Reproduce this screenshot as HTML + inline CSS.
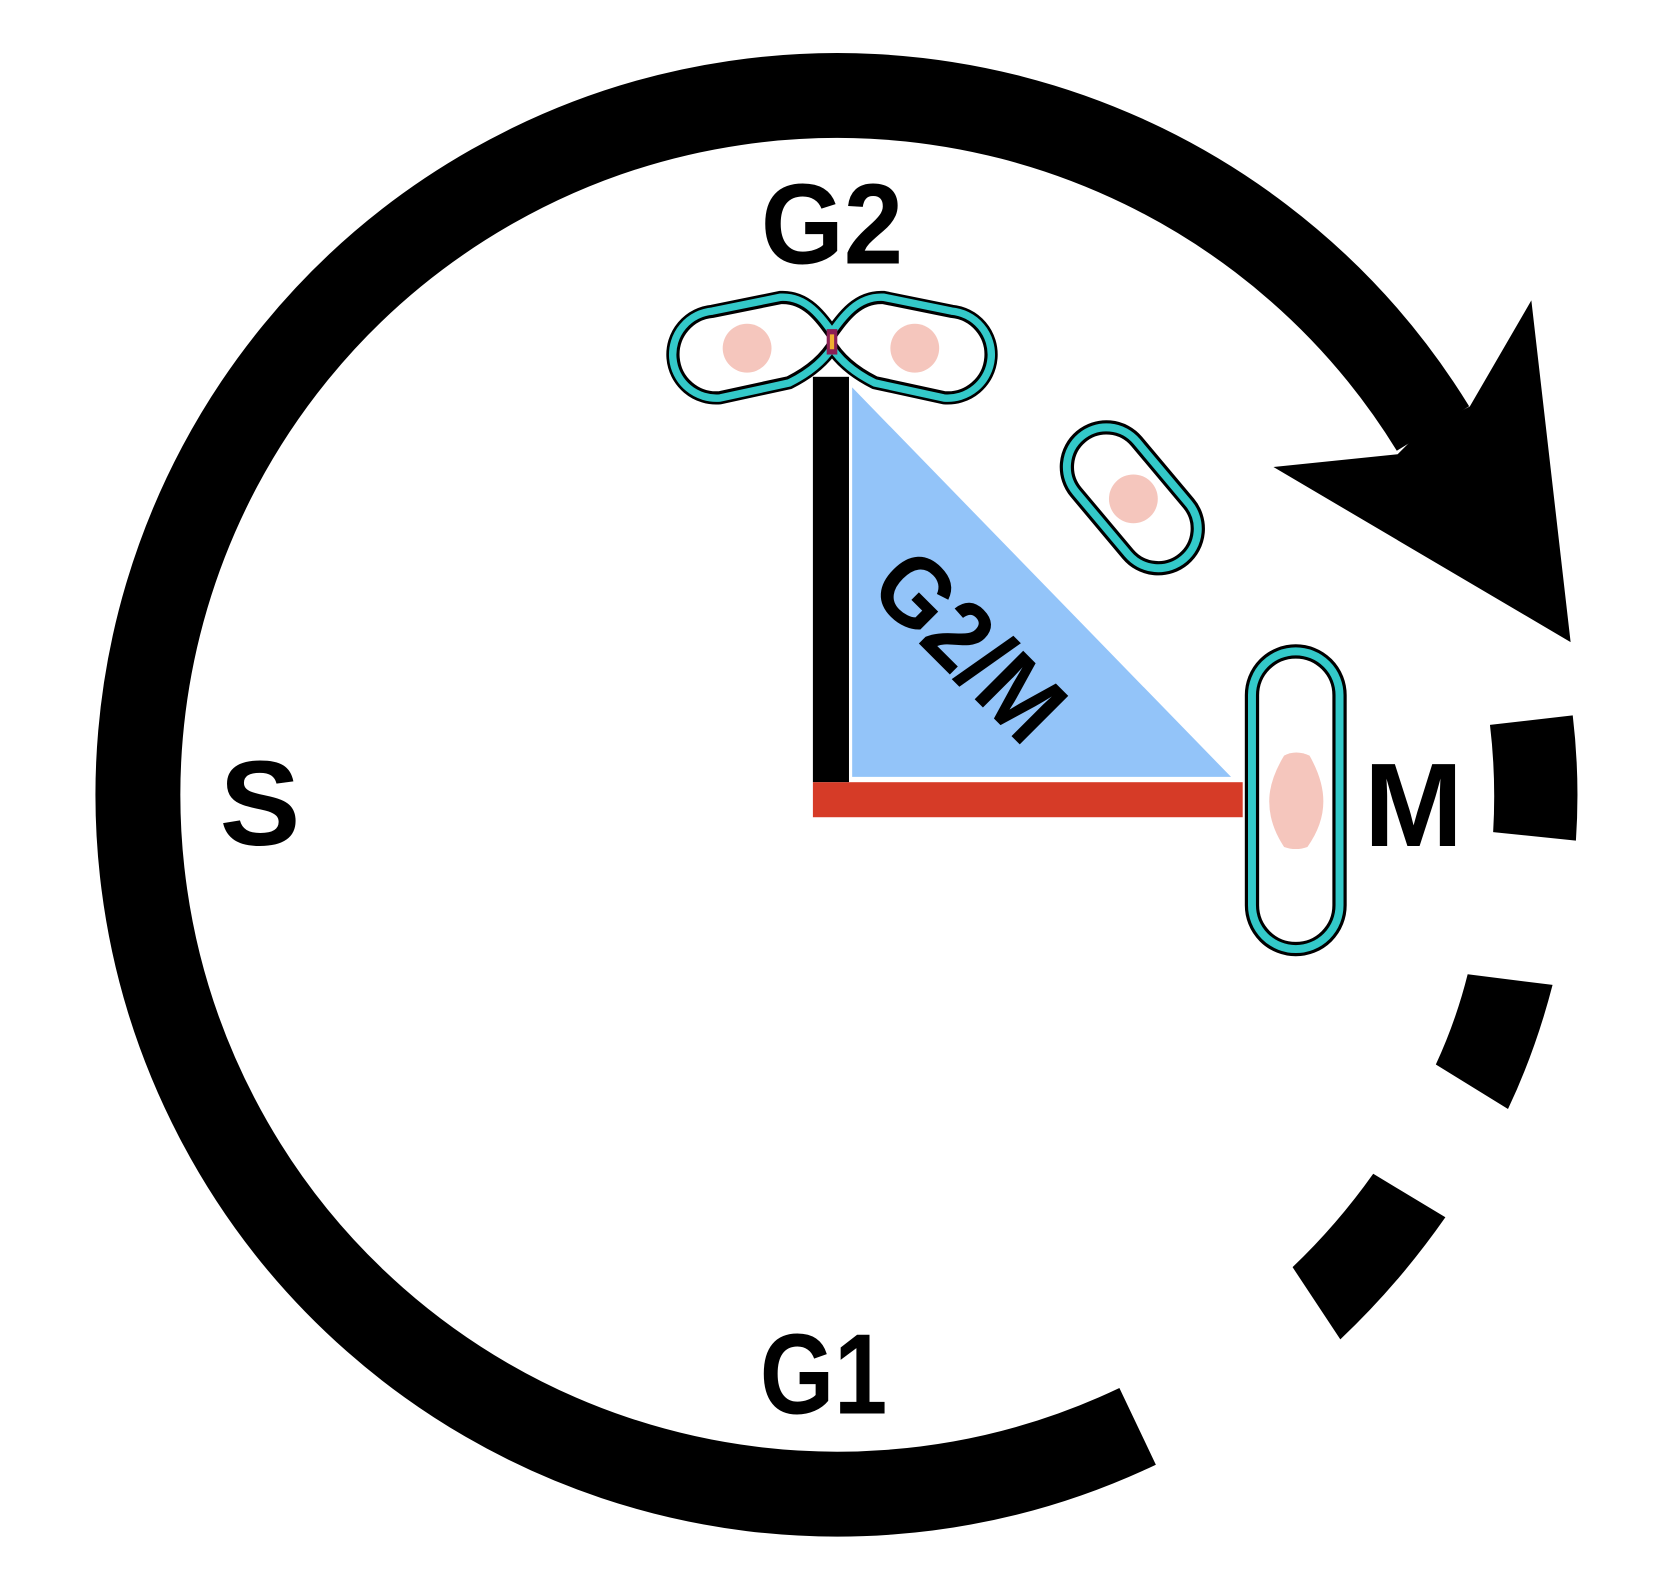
<!DOCTYPE html>
<html><head><meta charset="utf-8"><style>html,body{margin:0;padding:0;background:#fff}svg{display:block}</style></head>
<body>
<svg width="1664" height="1592" viewBox="0 0 1568 1500" xmlns="http://www.w3.org/2000/svg">
<g fill="none" stroke="#000" stroke-width="80">
<path d="M1072.0 1344 A659 659 0 1 1 1350.3 403.7"/>
</g>
<path d="M1404 683 L1482 674 Q1489 733 1485 792 L1407 784 Q1410 733 1404 683 Z" fill="#000"/>
<path d="M1383 918 L1463 928 Q1447 990 1421 1045 L1353 1003 Q1372 962 1383 918 Z" fill="#000"/>
<path d="M1294 1106 L1362 1147 Q1318 1210 1263 1262 L1218 1194 Q1260 1154 1294 1106 Z" fill="#000"/>
<polygon points="1200,440 1317,428 1340,405 1385,383 1443,283 1480,605" fill="#000"/>
<g font-family="Liberation Sans, sans-serif" font-weight="bold" fill="#000">
<text x="784" y="248" font-size="108" text-anchor="middle" textLength="134" lengthAdjust="spacingAndGlyphs">G2</text>
<text x="245" y="796" font-size="114" text-anchor="middle">S</text>
<text x="776" y="1332" font-size="108" text-anchor="middle" textLength="120" lengthAdjust="spacingAndGlyphs">G1</text>
<text x="1332" y="797" font-size="112" text-anchor="middle">M</text>
</g>
<rect x="766" y="355" width="34" height="382" fill="#000"/>
<rect x="766" y="737" width="405" height="33" fill="#d63b27"/>
<polygon points="803,365 803,732 1160,732" fill="#93c4f9"/>
<text x="912" y="640" font-family="Liberation Sans, sans-serif" font-weight="bold" font-size="94" text-anchor="middle" transform="rotate(45 912 610)" textLength="210" lengthAdjust="spacingAndGlyphs">G2/M</text>
<!-- dividing cell -->
<g>
<path d="M783 320 C770 302,758 284,736 285 L672 298 A36 36 0 0 0 678 370 L742 356 C760 347,774 336,783 320 Z" fill="none" stroke="#000" stroke-width="22"/>
<path d="M785 320 C798 302,810 284,832 285 L896 298 A36 36 0 0 1 890 370 L826 356 C808 347,794 336,785 320 Z" fill="none" stroke="#000" stroke-width="22"/>
<path d="M783 320 C770 302,758 284,736 285 L672 298 A36 36 0 0 0 678 370 L742 356 C760 347,774 336,783 320 Z" fill="none" stroke="#33c9c9" stroke-width="17"/>
<path d="M785 320 C798 302,810 284,832 285 L896 298 A36 36 0 0 1 890 370 L826 356 C808 347,794 336,785 320 Z" fill="none" stroke="#33c9c9" stroke-width="17"/>
<path d="M783 320 C770 302,758 284,736 285 L672 298 A36 36 0 0 0 678 370 L742 356 C760 347,774 336,783 320 Z" fill="#fff" stroke="#000" stroke-width="3"/>
<path d="M785 320 C798 302,810 284,832 285 L896 298 A36 36 0 0 1 890 370 L826 356 C808 347,794 336,785 320 Z" fill="#fff" stroke="#000" stroke-width="3"/>
<rect x="779" y="310" width="10" height="24" fill="#8b1f55"/>
<rect x="782" y="315" width="4" height="14" fill="#f0b030"/>
<circle cx="704" cy="328" r="23" fill="#f5c6bd"/>
<circle cx="862" cy="328" r="23" fill="#f5c6bd"/>
</g>
<!-- diagonal cell -->
<g transform="rotate(50 1067 469)">
<rect x="997" y="437" width="140" height="64" rx="32" fill="none" stroke="#000" stroke-width="24"/>
<rect x="997" y="437" width="140" height="64" rx="32" fill="none" stroke="#33c9c9" stroke-width="18"/>
<rect x="997" y="437" width="140" height="64" rx="32" fill="#fff" stroke="#000" stroke-width="3"/>
</g>
<circle cx="1068" cy="470" r="23" fill="#f5c6bd"/>
<!-- vertical cell -->
<rect x="1185" y="619" width="72" height="270" rx="36" fill="none" stroke="#000" stroke-width="24"/>
<rect x="1185" y="619" width="72" height="270" rx="36" fill="none" stroke="#33c9c9" stroke-width="18"/>
<rect x="1185" y="619" width="72" height="270" rx="36" fill="#fff" stroke="#000" stroke-width="3"/>
<path d="M1210 712 Q1221 706 1234 712 Q1247 735 1247 755 Q1247 777 1232 798 Q1221 802 1210 798 Q1196 777 1196 755 Q1196 735 1210 712 Z" fill="#f5c6bd"/>
</svg>
</body></html>
